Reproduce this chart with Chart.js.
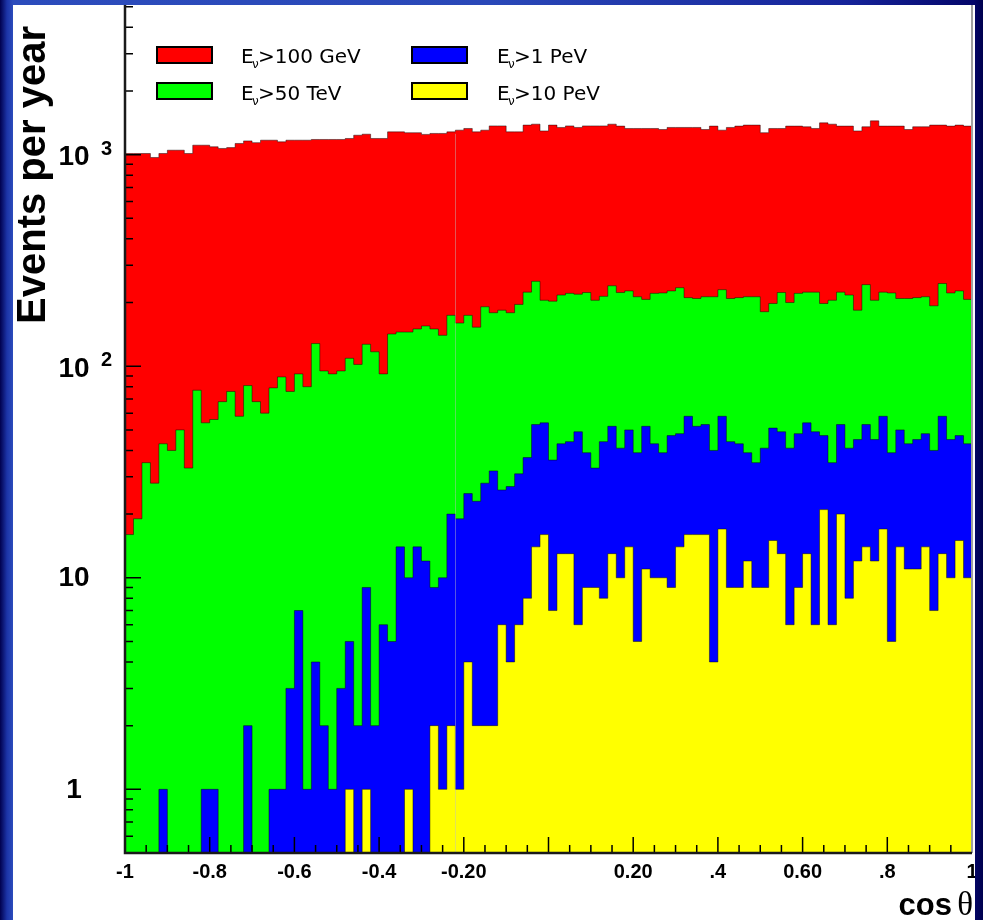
<!DOCTYPE html>
<html>
<head>
<meta charset="utf-8">
<script src="https://cdn.jsdelivr.net/npm/chart.js@4.4.1/dist/chart.umd.min.js"></script>
<style>
  html, body { margin: 0; padding: 0; }
  body {
    width: 983px; height: 920px; overflow: hidden; position: relative;
    background: linear-gradient(to right, #00004e 0px, #1c34a8 7px, #2c4cbc 13px, #2a48b8 50%, #16249a 86%, #04066a 99%, #00004e 100%);
  }
  #panel { position: absolute; left: 13px; top: 5px; width: 962px; height: 915px; background: #fff; }
  #panel canvas { display: block; }
</style>
</head>
<body>
<div id="panel"><canvas id="zenithChart" width="962" height="915"></canvas></div>
<script>
// 100 bins in cos(theta), -1 .. 1
const binEdges = Array.from({ length: 101 }, (_, i) => -1 + i * 0.02);

// events per year in each bin, one array per energy threshold
const countsAbove100GeV = [
  1013, 1013, 1013, 970, 1013, 1050, 1050, 1013, 1109, 1109,
  1090, 1070, 1080, 1130, 1162, 1140, 1171, 1171, 1150, 1171,
  1171, 1171, 1180, 1180, 1180, 1180, 1193, 1236, 1250, 1193,
  1193, 1282, 1282, 1270, 1270, 1247, 1260, 1260, 1282, 1306,
  1330, 1282, 1306, 1368, 1368, 1282, 1282, 1380, 1394, 1295,
  1380, 1345, 1368, 1345, 1368, 1368, 1368, 1394, 1365, 1330,
  1330, 1330, 1330, 1315, 1345, 1345, 1345, 1345, 1315, 1365,
  1306, 1345, 1365, 1380, 1380, 1270, 1330, 1330, 1365, 1365,
  1355, 1330, 1414, 1394, 1365, 1365, 1295, 1355, 1445, 1365,
  1365, 1365, 1315, 1355, 1355, 1380, 1380, 1365, 1380, 1365
];
const countsAbove50TeV = [
  16, 19, 35, 28, 43, 40, 50, 33, 77, 54,
  56, 68, 76, 58, 81, 68, 60, 79, 89, 76,
  92, 80, 128, 95, 92, 95, 109, 102, 127, 117,
  92, 142, 145, 145, 150, 155, 150, 140, 174, 160,
  174, 153, 191, 179, 184, 179, 196, 224, 252, 205,
  203, 217, 221, 219, 223, 205, 214, 240, 223, 227,
  213, 207, 221, 222, 227, 235, 211, 209, 213, 213,
  230, 209, 211, 213, 213, 181, 198, 223, 200, 221,
  224, 224, 198, 205, 224, 217, 184, 243, 205, 224,
  222, 209, 209, 211, 213, 193, 246, 222, 227, 207
];
const countsAbove1PeV = [
  0, 0, 0, 0, 1, 0, 0, 0, 0, 1,
  1, 0, 0, 0, 2, 0, 0, 1, 1, 3,
  7, 1, 4, 2, 1, 3, 5, 2, 9, 2,
  6, 5, 14, 10, 14, 12, 9, 10, 20, 19,
  25, 23, 28, 32, 26, 27, 31, 37, 53, 54,
  36, 43, 44, 49, 39, 33, 44, 52, 41, 50,
  39, 52, 43, 39, 47, 48, 58, 52, 53, 40,
  58, 44, 43, 39, 35, 41, 51, 49, 41, 48,
  54, 49, 47, 35, 53, 41, 45, 53, 45, 58,
  39, 50, 43, 45, 48, 40, 58, 45, 47, 43
];
const countsAbove10PeV = [
  0, 0, 0, 0, 0, 0, 0, 0, 0, 0,
  0, 0, 0, 0, 0, 0, 0, 0, 0, 0,
  0, 0, 0, 0, 0, 0, 1, 0, 1, 0,
  0, 0, 0, 1, 0, 0, 2, 1, 2, 1,
  4, 2, 2, 2, 6, 4, 6, 8, 14, 16,
  7, 13, 13, 6, 9, 9, 8, 13, 10, 14,
  5, 11, 10, 10, 9, 14, 16, 16, 16, 4,
  17, 9, 9, 12, 9, 9, 15, 13, 6, 9,
  13, 6, 21, 6, 20, 8, 12, 14, 12, 17,
  5, 14, 11, 11, 14, 7, 13, 10, 15, 10
];

const thresholdLabels = ['>100 GeV', '>50 TeV', '>1 PeV', '>10 PeV'];
const fillColors = ['#ff0000', '#00ff00', '#0000ff', '#ffff00'];

const xTickValues = [-1, -0.8, -0.6, -0.4, -0.2, 0.2, 0.4, 0.6, 0.8, 1];
const xTickLabels = ['-1', '-0.8', '-0.6', '-0.4', '-0.20', '0.20', '.4', '0.60', '.8', '1'];
const yLabelValues = [1, 10, 100, 1000];
const yLabelBase = ['1', '10', '10', '10'];
const yLabelExp = ['', '', '2', '3'];

const yMin = 0.5;
const yMax = 5100;
const seamX = -0.221;

// empty bins sit on the axis floor
function histPoints(counts) {
    const pts = counts.map((c, i) => ({ x: binEdges[i], y: Math.max(c, yMin) }));
    pts.push({ x: binEdges[counts.length], y: Math.max(counts[counts.length - 1], yMin) });
    return pts;
}

const allCounts = [countsAbove100GeV, countsAbove50TeV, countsAbove1PeV, countsAbove10PeV];

const histFrame = {
    id: 'histFrame',
    afterDatasetsDraw(chart) {
        const { ctx, chartArea: a, scales: { x, y } } = chart;
        ctx.save();

        // thin seam through the filled region
        const sx = Math.round(x.getPixelForValue(seamX)) + 0.5;
        const seamBin = Math.floor((seamX + 1) / 0.02);
        ctx.strokeStyle = 'rgba(190,190,190,0.45)';
        ctx.lineWidth = 1;
        ctx.beginPath();
        ctx.moveTo(sx, y.getPixelForValue(countsAbove100GeV[seamBin]) + 2);
        ctx.lineTo(sx, a.bottom);
        ctx.stroke();

        // tick marks, drawn inward
        ctx.strokeStyle = '#000';
        ctx.lineWidth = 1.5;
        ctx.beginPath();
        for (let d = 0.1; d < yMax; d *= 10) {
            for (let k = 1; k <= 9; k++) {
                const v = k * d;
                if (v < yMin || v > yMax) continue;
                const py = y.getPixelForValue(v);
                const len = k === 1 ? 16 : 8;
                ctx.moveTo(a.left, py);
                ctx.lineTo(a.left + len, py);
            }
        }
        for (let i = 0; i <= 40; i++) {
            const v = -1 + i * 0.05;
            const px = x.getPixelForValue(v);
            const len = i % 4 === 0 ? 16 : 8;
            ctx.moveTo(px, a.bottom);
            ctx.lineTo(px, a.bottom - len);
        }
        ctx.stroke();

        // frame
        ctx.strokeStyle = '#a0a0a0';
        ctx.lineWidth = 2;
        ctx.beginPath();
        ctx.moveTo(a.right, a.top);
        ctx.lineTo(a.right, a.bottom);
        ctx.stroke();

        ctx.strokeStyle = '#1a1a1a';
        ctx.lineWidth = 2.5;
        ctx.beginPath();
        ctx.moveTo(a.left, a.top);
        ctx.lineTo(a.left, a.bottom);
        ctx.lineTo(a.right, a.bottom);
        ctx.stroke();
        ctx.restore();
    },
    afterDraw(chart) {
        const { ctx, chartArea: a, scales: { x, y } } = chart;
        ctx.save();
        ctx.fillStyle = '#000';

        // x labels
        ctx.font = 'bold 20px "Liberation Sans", Arial, sans-serif';
        ctx.textAlign = 'center';
        ctx.textBaseline = 'middle';
        xTickValues.forEach((v, i) => {
            ctx.fillText(xTickLabels[i], x.getPixelForValue(v), a.bottom + 19);
        });

        // y labels with exponents
        yLabelValues.forEach((v, i) => {
            const py = y.getPixelForValue(v);
            ctx.font = 'bold 28px "Liberation Sans", Arial, sans-serif';
            ctx.textAlign = 'center';
            ctx.textBaseline = 'middle';
            ctx.fillText(yLabelBase[i], a.left - 51, py + (yLabelExp[i] ? 3 : 1));
            if (yLabelExp[i]) {
                ctx.font = 'bold 20px "Liberation Sans", Arial, sans-serif';
                ctx.textAlign = 'left';
                ctx.textBaseline = 'alphabetic';
                ctx.fillText(yLabelExp[i], a.left - 24, py);
            }
        });

        // axis titles
        ctx.save();
        ctx.translate(a.left - 80, a.top + 170);
        ctx.rotate(-Math.PI / 2);
        ctx.font = 'bold 40px "Liberation Sans", Arial, sans-serif';
        ctx.textAlign = 'center';
        ctx.textBaseline = 'alphabetic';
        ctx.fillText('Events per year', 0, 0);
        ctx.restore();

        ctx.textBaseline = 'alphabetic';
        ctx.textAlign = 'right';
        ctx.font = '33px "Liberation Serif", "Times New Roman", serif';
        ctx.fillText('\u03b8', a.right + 1, a.bottom + 62);
        ctx.font = 'bold 31px "Liberation Sans", Arial, sans-serif';
        ctx.fillText('cos', a.right - 20, a.bottom + 62);

        // legend: two columns of two entries
        thresholdLabels.forEach((label, i) => {
            const col = Math.floor(i / 2);
            const row = i % 2;
            const bx = a.left + 32 + col * 255;
            const by = a.top + 42 + row * 36;
            ctx.fillStyle = fillColors[i];
            ctx.fillRect(bx, by, 55, 16);
            ctx.strokeStyle = '#000';
            ctx.lineWidth = 2;
            ctx.strokeRect(bx, by, 55, 16);

            const tx = a.left + 116 + col * 256;
            const ty = a.top + 58 + row * 37;
            ctx.fillStyle = '#000';
            ctx.textAlign = 'left';
            ctx.font = '20px "DejaVu Sans", sans-serif';
            ctx.fillText('E', tx, ty);
            ctx.font = '12px "DejaVu Sans", sans-serif';
            ctx.fillText('\u03bd', tx + 11, ty + 5);
            ctx.font = '20px "DejaVu Sans", sans-serif';
            ctx.fillText(label, tx + 17, ty);
        });
        ctx.restore();
    }
};

const datasets = allCounts.map((counts, i) => ({
    label: 'E\u03bd' + thresholdLabels[i],
    data: histPoints(counts),
    stepped: true,
    fill: 'start',
    backgroundColor: fillColors[i],
    borderColor: 'rgba(0,0,0,0.45)',
    borderWidth: 1,
    pointRadius: 0,
    order: 4 - i
}));

new Chart(document.getElementById('zenithChart'), {
    type: 'line',
    data: { datasets },
    options: {
        responsive: false,
        animation: false,
        layout: { padding: { left: 112, right: 3, top: 0, bottom: 67 } },
        plugins: {
            legend: { display: false },
            tooltip: { enabled: false }
        },
        scales: {
            x: { type: 'linear', min: -1, max: 1, display: false },
            y: { type: 'logarithmic', min: yMin, max: yMax, display: false }
        }
    },
    plugins: [histFrame]
});
</script>
</body>
</html>
